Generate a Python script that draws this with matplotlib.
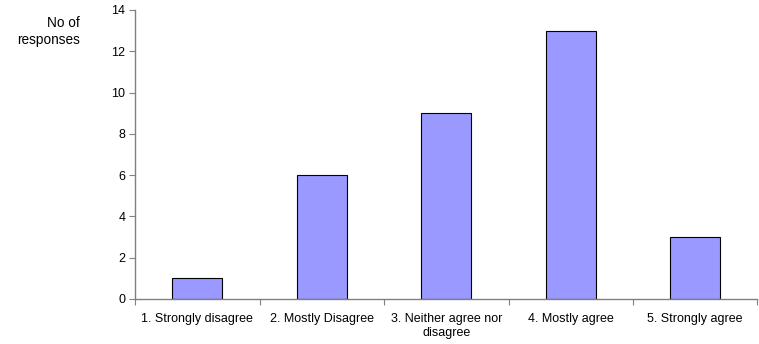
import numpy as np
import matplotlib.pyplot as plt

categories = ['1. Strongly disagree', '2. Mostly Disagree', '3. Neither agree nor\ndisagree',
              '4. Mostly agree', '5. Strongly agree']
responses = [1, 6, 9, 13, 3]

plt.rcParams['font.family'] = ['Liberation Sans', 'DejaVu Sans']

fig = plt.figure(figsize=(7.59, 3.44), dpi=100)
ax = fig.add_axes([0.178, 0.131, 0.82, 0.840])

x = np.arange(len(categories))
ax.bar(x, responses, width=0.4, color='#9999FF', edgecolor='black', linewidth=0.8, zorder=2)

ax.set_xlim(-0.5, len(categories) - 0.5)
ax.set_ylim(0, 14)
ax.set_yticks(np.arange(0, 15, 2))

# category labels between the tick marks
ax.set_xticks(np.arange(-0.5, len(categories)), minor=False)
ax.set_xticklabels([])
ax.set_xticks(x, minor=True)
ax.set_xticklabels(categories, minor=True, fontsize=9, linespacing=1.2)
ax.tick_params(axis='x', which='minor', length=0, pad=10)
ax.tick_params(axis='x', which='major', length=4, direction='out', color='#808080')
ax.tick_params(axis='y', length=4, direction='out', color='#808080', labelsize=9, pad=3)

for s in ['top', 'right']:
    ax.spines[s].set_visible(False)
for s in ['left', 'bottom']:
    ax.spines[s].set_color('#808080')
    ax.spines[s].set_linewidth(1)

fig.text(0.105, 0.953, 'No of\nresponses', ha='right', va='top', fontsize=9.8, linespacing=1.3)

fig.savefig('out.png', dpi=100)
plt.close()
